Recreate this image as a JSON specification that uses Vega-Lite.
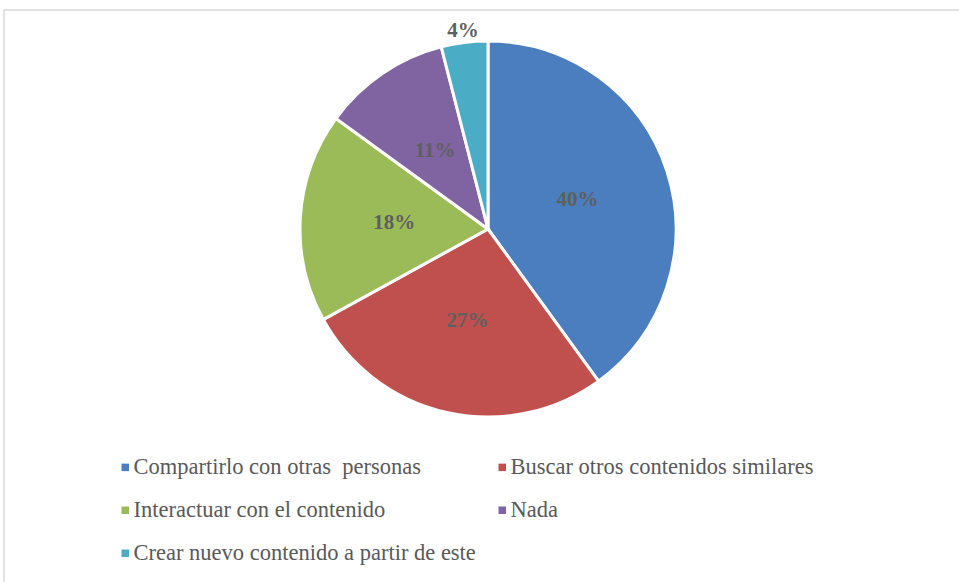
{
  "$schema": "https://vega.github.io/schema/vega-lite/v6.json",
  "width": 968,
  "height": 600,
  "autosize": "none",
  "padding": {"left": 4, "top": 10, "right": 0, "bottom": 0},
  "background": "white",
  "view": {"stroke": "#d9d9d9", "strokeWidth": 1.5},
  "config": {
    "view": {"stroke": "#d9d9d9", "strokeWidth": 1.5},
    "font": "Liberation Serif",
    "legend": {"labelFont": "Liberation Serif"}
  },
  "data": {
    "values": [
      {"idx": 1, "cat": "Compartirlo con otras\u00a0 personas", "value": 40, "label": "40%"},
      {"idx": 2, "cat": "Buscar otros contenidos similares", "value": 27, "label": "27%"},
      {"idx": 3, "cat": "Interactuar con el contenido", "value": 18, "label": "18%"},
      {"idx": 4, "cat": "Nada", "value": 11, "label": "11%"},
      {"idx": 5, "cat": "Crear nuevo contenido a partir de este", "value": 4, "label": "4%"}
    ]
  },
  "encoding": {
    "theta": {"field": "value", "type": "quantitative", "stack": true},
    "order": {"field": "idx", "type": "ordinal"}
  },
  "layer": [
    {
      "mark": {"type": "arc", "x": 484, "y": 219, "outerRadius": 188, "stroke": "white", "strokeWidth": 3},
      "encoding": {
        "color": {
          "field": "cat",
          "type": "nominal",
          "scale": {
            "domain": ["Compartirlo con otras\u00a0 personas", "Interactuar con el contenido", "Crear nuevo contenido a partir de este", "Buscar otros contenidos similares", "Nada"],
            "range": ["#4a7ebf", "#9bbb59", "#4bacc6", "#c0504d", "#8064a2"]
          },
          "legend": {
            "title": null,
            "orient": "none",
            "legendX": 110,
            "legendY": 446,
            "columns": 2,
            "columnPadding": 15,
            "rowPadding": 20,
            "symbolType": "square",
            "symbolSize": 56,
            "symbolStrokeWidth": 0,
            "labelFont": "Liberation Serif",
            "labelFontSize": 22.5,
            "labelColor": "#595959",
            "labelOffset": -3,
            "labelLimit": 600,
            "padding": 0
          }
        }
      }
    },
    {
      "mark": {"type": "text", "x": 484, "y": 219, "radius": 94, "font": "Liberation Serif", "fontSize": 21, "fontWeight": "bold", "fill": "#5f5f5f", "baseline": "middle", "align": "center"},
      "encoding": {"text": {"condition": {"test": "datum.value >= 5", "field": "label"}, "value": ""}}
    },
    {
      "mark": {"type": "text", "x": 484, "y": 219, "radius": 200, "font": "Liberation Serif", "fontSize": 21, "fontWeight": "bold", "fill": "#5f5f5f", "baseline": "middle", "align": "center"},
      "encoding": {"text": {"condition": {"test": "datum.value < 5", "field": "label"}, "value": ""}}
    }
  ]
}
